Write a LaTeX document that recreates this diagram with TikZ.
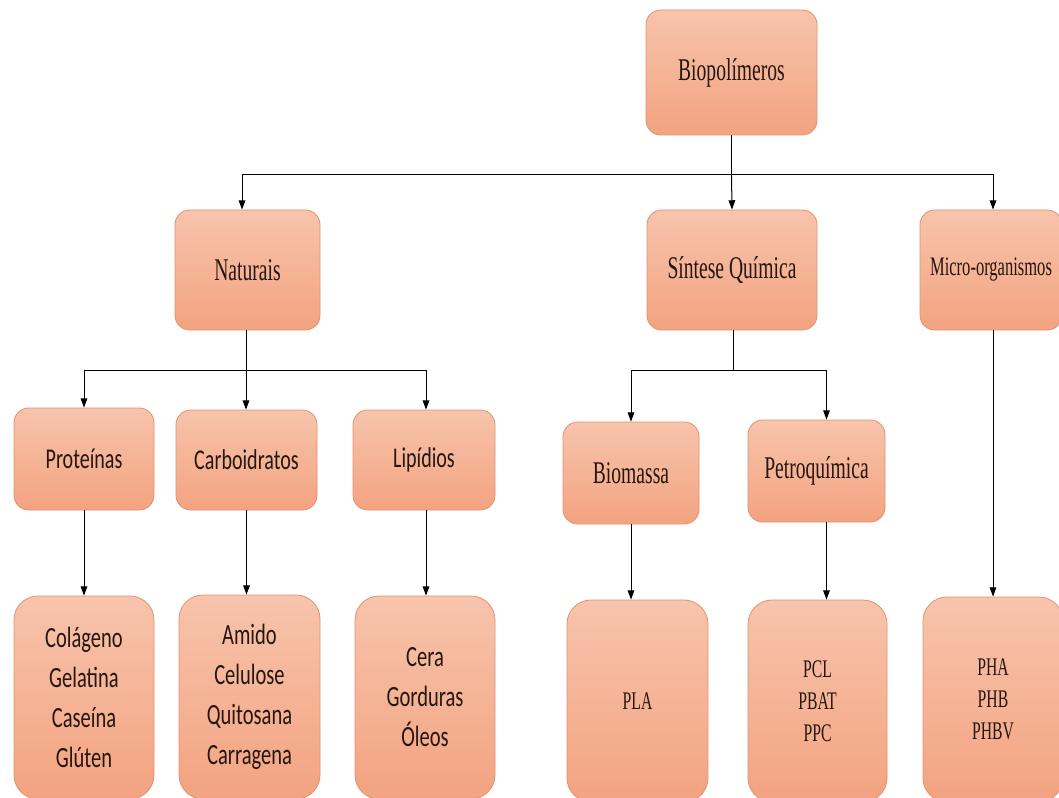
\documentclass[tikz,border=0pt]{standalone}
\usepackage{fontspec}
\setmainfont{Liberation Serif}[FakeStretch=0.62]
\newfontfamily\sansfam{Carlito}[FakeStretch=0.7]
\usetikzlibrary{arrows.meta}
\definecolor{boxtop}{RGB}{247,196,172}
\definecolor{boxbot}{RGB}{243,163,128}
\definecolor{boxline}{RGB}{226,146,112}
\definecolor{ink}{RGB}{38,22,16}
\begin{document}
\begin{tikzpicture}[x=0.75pt,y=-0.75pt,
  box/.style={draw=boxline, line width=0.6pt, rounded corners=11pt,
    top color=boxtop, bottom color=boxbot, align=center, text=ink, inner sep=0pt},
  tall/.style={box, rounded corners=18pt},
  sz/.style 2 args={minimum width=#1*0.75pt, minimum height=#2*0.75pt},
  serifbig/.style={font=\fontsize{23.7}{28}\selectfont},
  serifsmall/.style={font=\fontsize{19}{24}\selectfont},
  sansmid/.style={font=\sansfam\fontsize{21.5}{26}\selectfont},
  sanslist/.style={font=\sansfam\fontsize{22}{30}\selectfont},
  link/.style={draw=black, line width=0.75pt},
  arr/.style={link, -{Triangle[length=7pt,width=5pt]}}]
\useasboundingbox (0,0) rectangle (1059,798);
\fill[white] (0,0) rectangle (1059,798);
\clip (0,0) rectangle (1059,798);

% top level
\node[box, sz={171}{125}, serifbig] (bio) at (731.5,72.5) {Biopolímeros};

% second level
\node[box, sz={145}{120}, serifbig] (nat) at (247.5,270) {Naturais};
\node[box, sz={170}{120}, serifbig] (sin) at (732,270) {Síntese Química};
\node[box, sz={142}{120}, font=\fontsize{20}{24}\selectfont] (mic) at (991,270) {Micro-organismos};

% third level
\node[box, sz={140}{102}, sansmid] (pro) at (84,459) {Proteínas};
\node[box, sz={141}{100}, sansmid] (car) at (246.5,460) {Carboidratos};
\node[box, sz={142}{100}, sansmid] (lip) at (424,460) {Lipídios};
\node[box, sz={136}{102}, serifbig] (bms) at (631,473) {Biomassa};
\node[box, sz={137}{102}, serifbig] (pet) at (816.5,471) {Petroquímica};

% leaves
\node[tall, sz={140}{203}, sanslist] (col) at (84,697.5) {Colágeno\\Gelatina\\Caseína\\Glúten};
\node[tall, sz={141}{204}, sanslist] (ami) at (249.5,697) {Amido\\Celulose\\Quitosana\\Carragena};
\node[tall, sz={140}{203}, sanslist] (cer) at (425,697.5) {Cera\\Gorduras\\Óleos};
\node[tall, sz={141}{202}, serifsmall] (pla) at (637.5,701) {PLA};
\node[tall, sz={139}{202}, serifsmall] (pcl) at (817.5,701) {PCL\\PBAT\\PPC};
\node[tall, sz={140}{205}, serifsmall] (pha) at (993,699.5) {PHA\\PHB\\PHBV};

% junction points
\coordinate (j1) at (731.5,175);
\coordinate (j2) at (246,370);
\coordinate (j3) at (733,370);

% connectors from the root
\draw[link] (bio.south) -- (j1);
\draw[arr] (j1) -| ([xshift=-4.1pt]nat.north);
\draw[arr] (j1) -- (sin.north);
\draw[arr] (j1) -| ([xshift=1.5pt]mic.north);

% connectors under Naturais
\draw[link] (j2 |- nat.south) -- (j2);
\draw[arr] (j2) -| (pro.north);
\draw[arr] (j2) -- (j2 |- car.north);
\draw[arr] (j2) -| ([xshift=1.5pt]lip.north);

% connectors under Síntese Química
\draw[link] (j3 |- sin.south) -- (j3);
\draw[arr] (j3) -| (bms.north);
\draw[arr] (j3) -| ([xshift=7.5pt]pet.north);

% connectors to the leaves
\draw[arr] (pro.south) -- (pro.south |- col.north);
\draw[arr] (car.south) -- (car.south |- ami.north);
\draw[arr] ([xshift=1.5pt]lip.south) -- ([xshift=1.5pt]lip.south |- cer.north);
\draw[arr] (bms.south) -- (bms.south |- pla.north);
\draw[arr] ([xshift=7.5pt]pet.south) -- ([xshift=7.5pt]pet.south |- pcl.north);
\draw[arr] ([xshift=1.5pt]mic.south) -- ([xshift=1.5pt]mic.south |- pha.north);
\end{tikzpicture}
\end{document}
